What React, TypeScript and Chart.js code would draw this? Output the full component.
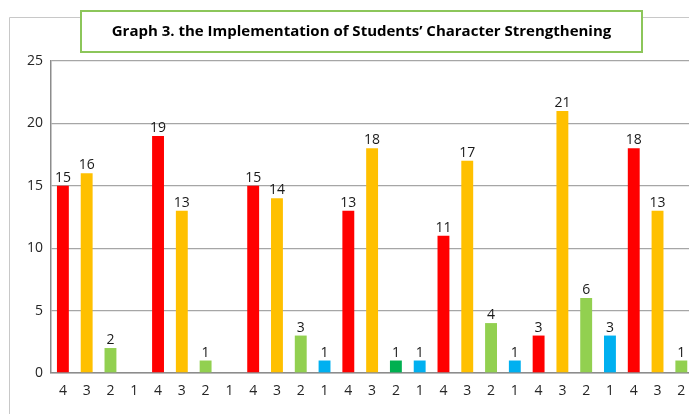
import React, { useEffect, useRef } from "react";
import { Chart, registerables } from "chart.js";

Chart.register(...registerables);

const categories: string[] = [
  "4", "3", "2", "1",
  "4", "3", "2", "1",
  "4", "3", "2", "1",
  "4", "3", "2", "1",
  "4", "3", "2", "1",
  "4", "3", "2", "1",
  "4", "3", "2", "1",
];

const values: (number | null)[] = [
  15, 16, 2, 0,
  19, 13, 1, 0,
  15, 14, 3, 1,
  13, 18, 1, 1,
  11, 17, 4, 1,
  3, 21, 6, 3,
  18, 13, 1, null,
];

const RED = "#FF0000";
const ORANGE = "#FFC000";
const GREEN = "#92D050";
const DKGREEN = "#00B050";
const BLUE = "#00B0F0";

const barColors: string[] = [
  RED, ORANGE, GREEN, BLUE,
  RED, ORANGE, GREEN, BLUE,
  RED, ORANGE, GREEN, BLUE,
  RED, ORANGE, DKGREEN, BLUE,
  RED, ORANGE, GREEN, BLUE,
  RED, ORANGE, GREEN, BLUE,
  RED, ORANGE, GREEN, BLUE,
];

const yTicks: number[] = [0, 5, 10, 15, 20, 25];

const TITLE = "Graph 3. the Implementation of Students\u2019 Character Strengthening";
const FONT = "'Open Sans', 'DejaVu Sans', sans-serif";

const framePlugin = {
  id: "frameAndTitle",
  beforeDraw(chart: any) {
    const ctx = chart.ctx;
    ctx.save();
    ctx.fillStyle = "#ffffff";
    ctx.fillRect(0, 0, chart.width, chart.height);
    ctx.strokeStyle = "#c8c8c8";
    ctx.lineWidth = 1;
    ctx.beginPath();
    ctx.moveTo(9.5, chart.height);
    ctx.lineTo(9.5, 17.5);
    ctx.lineTo(chart.width, 17.5);
    ctx.stroke();
    ctx.restore();
  },
  afterDraw(chart: any) {
    const ctx = chart.ctx;
    ctx.save();
    ctx.fillStyle = "#ffffff";
    ctx.fillRect(80, 10, 563, 43);
    ctx.strokeStyle = "#8cc65a";
    ctx.lineWidth = 2;
    ctx.strokeRect(81, 11, 561, 41);
    ctx.fillStyle = "#000000";
    ctx.font = "bold 15px " + FONT;
    ctx.textAlign = "center";
    ctx.textBaseline = "middle";
    ctx.fillText(TITLE, 361.5, 31.5);
    ctx.restore();
  },
};

const labelPlugin = {
  id: "barLabels",
  afterDatasetsDraw(chart: any) {
    const ctx = chart.ctx;
    const meta = chart.getDatasetMeta(0);
    ctx.save();
    ctx.fillStyle = "#1a1a1a";
    ctx.font = "14px " + FONT;
    ctx.textAlign = "center";
    ctx.textBaseline = "alphabetic";
    meta.data.forEach((bar: any, i: number) => {
      const v = values[i];
      if (v === null || v === 0) return;
      ctx.fillText(String(v), bar.x, bar.y - 4);
    });
    ctx.restore();
  },
};

export default function App() {
  const ref = useRef<HTMLCanvasElement | null>(null);

  useEffect(() => {
    const canvas = ref.current;
    if (!canvas) return;
    const chart = new Chart(canvas, {
      type: "bar",
      data: {
        labels: categories,
        datasets: [
          {
            data: values as any,
            backgroundColor: barColors,
            borderWidth: 0,
            categoryPercentage: 1,
            barPercentage: 0.5,
          },
        ],
      },
      options: {
        responsive: false,
        animation: false,
        devicePixelRatio: 1,
        layout: { padding: { top: 61, left: 0, right: 3, bottom: 0 } },
        plugins: {
          legend: { display: false },
          tooltip: { enabled: false },
          title: { display: false },
        },
        scales: {
          x: {
            grid: { display: false, drawTicks: false },
            border: { color: "#8c8c8c", width: 1.5 },
            ticks: {
              padding: 10,
              color: "#262626",
              font: { family: FONT, size: 14 },
              autoSkip: false,
              maxRotation: 0,
            },
            afterFit: (s: any) => {
              s.height = 41;
            },
          },
          y: {
            min: 0,
            max: 25,
            afterBuildTicks: (s: any) => {
              s.ticks = yTicks.map((v) => ({ value: v }));
            },
            ticks: {
              padding: 8,
              color: "#262626",
              font: { family: FONT, size: 14 },
            },
            grid: { color: "#a6a6a6", lineWidth: 1.3, drawTicks: false },
            border: { color: "#8c8c8c", width: 1.5 },
            afterFit: (s: any) => {
              s.width = 51;
            },
          },
        },
      },
      plugins: [framePlugin, labelPlugin],
    });
    return () => chart.destroy();
  }, []);

  return (
    <div
      style={{
        position: "fixed",
        left: 0,
        top: 0,
        width: 689,
        height: 414,
        overflow: "hidden",
        background: "#ffffff",
      }}
    >
      <canvas ref={ref} width={720} height={414} style={{ display: "block", width: 720, height: 414 }} />
    </div>
  );
}
